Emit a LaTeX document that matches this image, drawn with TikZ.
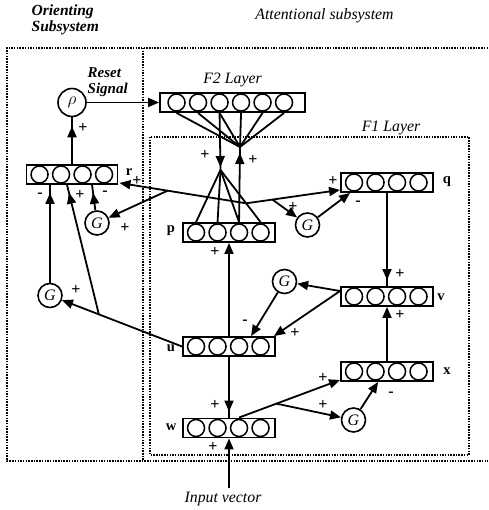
\documentclass[tikz,border=0pt]{standalone}
\usepackage{fontspec}
\setmainfont{Liberation Serif}
\usepackage{tikz}
\usetikzlibrary{arrows.meta, calc, decorations.markings}

\begin{document}
\begin{tikzpicture}[
    x=1pt, y=-1pt,
    layer/.style={draw, line width=1.9pt, minimum height=19pt, inner sep=0pt},
    cell/.style={line width=1.5pt},
    gate/.style={draw, line width=1.6pt, circle, minimum size=24pt, inner sep=0pt, font=\fontsize{16}{16}\selectfont\itshape},
    conn/.style={line width=1.8pt},
    arr/.style={conn, -{Triangle[length=11pt,width=9pt]}},
    arrowat/.style={conn, postaction={decorate}, decoration={markings, mark=at position #1 with {\arrow{Triangle[length=11pt,width=9pt]}}}},
    region/.style={line width=1.3pt, dash pattern=on 1.5pt off 1.2pt},
    sign/.style={font=\fontsize{16}{16}\selectfont\bfseries, inner sep=0pt},
    lbl/.style={font=\fontsize{14.5}{14.5}\selectfont\bfseries, inner sep=0pt},
    heading/.style={font=\fontsize{15.8}{16.5}\selectfont\itshape, inner sep=0pt, align=left}
]
\useasboundingbox (0,0) rectangle (488,510);
% Regions
\draw[region] (488,48) -- (7,48) -- (7,461) -- (488,461);
\draw[region] (143,48) -- (143,461);
\draw[region] (150,137) rectangle (469,455);
\node[heading, font=\fontsize{15.5}{16.5}\selectfont\bfseries\itshape, anchor=west] (orient) at (31.5,20) {Orienting\\Subsystem};
\node[heading, anchor=base] (attn) at (324.5,19.5) {Attentional subsystem};
\node[heading, font=\fontsize{15}{15.5}\selectfont\bfseries\itshape, anchor=west] (reset) at (87.5,82) {Reset\\Signal};
\node[heading, anchor=base] (f2lbl) at (232.5,84) {F2 Layer};
\node[heading, anchor=base] (f1lbl) at (391,132) {F1 Layer};
\node[heading, anchor=base] (inlbl) at (223,502.5) {Input vector};
% Layers
\node[layer, minimum width=145pt] (F2) at (232.5,102.5) {};
\node[layer, minimum width=91pt] (R) at (72,174.5) {};
\node[layer, minimum width=92pt] (P) at (229,232.5) {};
\node[layer, minimum width=92pt] (Q) at (387,182.5) {};
\node[layer, minimum width=92pt] (V) at (387,296.5) {};
\node[layer, minimum width=92pt] (U) at (229,346.5) {};
\node[layer, minimum width=92pt] (X) at (387,371.5) {};
\node[layer, minimum width=92pt] (W) at (229,428) {};
\foreach \n in {R,P,Q,V,U,X,W}
  \foreach \i in {0,...,3}
    \draw[cell] ($(\n.west)+(14+21.5*\i,0)$) circle (8.5pt);
\foreach \i in {0,...,5}
  \draw[cell] ($(F2.west)+(17.5+21.5*\i,0)$) circle (8.5pt);
\node[lbl] (rlbl) at (129,172.5) {r};
\node[lbl] (plbl) at (171,231) {p};
\node[lbl] (ulbl) at (171,348) {u};
\node[lbl] (wlbl) at (171,427.5) {w};
\node[lbl] (qlbl) at (447,182) {q};
\node[lbl] (vlbl) at (441,297) {v};
\node[lbl] (xlbl) at (447,371.5) {x};
% Gain controls
\node[gate, minimum size=28pt] (rho) at (72,102.5) {$\rho$};
\node[gate] (G1) at (97,223) {G};
\node[gate] (G2) at (50,295.5) {G};
\node[gate] (G3) at (307.5,225) {G};
\node[gate] (G4) at (353.5,420) {G};
\node[gate] (G5) at (284.5,281.5) {G};
% --- Orienting subsystem ---
\draw[arrowat=-9pt] (R.north) -- (rho.south);
\draw[arr] (rho.east) -- (F2.west);
% --- F2 <-> p ---
\foreach \i in {1,...,6}
  \coordinate (f\i) at ($(F2.south west)+(-4+21.5*\i,0)$);
\foreach \i in {1,...,4}
  \coordinate (p\i) at ($(P.north west)+(-7.5+21.5*\i,0)$);
\coordinate (A) at (240,147);
\coordinate (B) at (220.5,170);
\foreach \i in {1,...,6}
  \draw[conn] (f\i) -- (A);
\draw[arrowat=-3pt] (f3) -- (B);
\foreach \i in {1,...,4}
  \draw[conn] (B) -- (p\i);
\draw[arrowat=-6pt] (p3) -- (A);
% --- p -> r, p -> q ---
\coordinate (S) at ($(B)!0.64!(p4)$);
\coordinate (rin) at ($(R.south east)+(1,-2)$);
\coordinate (qin) at ($(Q.south west)+(0,-3)$);
\draw[arr] (S) -- (rin);
\draw[arr] (S) -- (qin);
\coordinate (M1) at ($(S)!0.62!(rin)$);
\draw[arr] (M1) -- (G1);
\coordinate (M2) at ($(S)!0.28!(qin)$);
\draw[arr] (M2) -- (G3);
\draw[arr] (G3) -- ($(Q.south west)+(10,0)$);
% --- into r ---
\draw[arrowat=-8pt] (G2) -- (G2 |- R.south);
\draw[arrowat=-8pt] (G1) -- ($(R.south west)+(66.5,0)$);
\draw[arr] (U.west) -- (G2);
\coordinate (M3) at ($(U.west)!0.63!(G2)$);
\draw[arrowat=-8pt] (M3) -- ($(R.south west)+(41.5,0)$);
% --- F1 layer ---
\draw[arr] (U.north) -- (P.south);
\draw[arrowat=-6pt] (Q.south) -- (V.north);
\draw[arr] (X.north) -- (V.south);
\coordinate (vout) at ($(V.west)+(0,-5.5)$);
\draw[arr] (vout) -- (G5);
\draw[arr] (vout) -- ($(U.north east)+(-2,0)$);
\draw[arr] (G5) -- ($(U.north west)+(69,0)$);
\draw[arrowat=-6pt] (U.south) -- (W.north);
\coordinate (inpt) at (229,488);
\draw[arr] (inpt) -- (W.south);
\coordinate (wout) at ($(W.north west)+(57,0)$);
\coordinate (xin) at ($(X.south west)+(0,-2)$);
\draw[arr] (wout) -- (xin);
\coordinate (M4) at ($(wout)!0.37!(xin)$);
\draw[arr] (M4) -- (G4);
\draw[arr] (G4) -- ($(X.south west)+(38,0)$);
% --- signs ---
\node[sign] (s1) at (83,128) {+};
\node[sign] (s2) at (137,181) {+};
\node[sign] (s3) at (40,195) {-};
\node[sign] (s4) at (80,195) {+};
\node[sign] (s5) at (105,193) {-};
\node[sign] (s6) at (125,228) {+};
\node[sign] (s7) at (76,290) {+};
\node[sign] (s8) at (215,252) {+};
\node[sign] (s9) at (205,155) {+};
\node[sign] (s10) at (253,160) {+};
\node[sign] (s11) at (333,181) {+};
\node[sign] (s12) at (293,207) {+};
\node[sign] (s13) at (358,203) {-};
\node[sign] (s14) at (400,274) {+};
\node[sign] (s15) at (400,315) {+};
\node[sign] (s16) at (245,322) {-};
\node[sign] (s17) at (295,333) {+};
\node[sign] (s18) at (215,405) {+};
\node[sign] (s19) at (213,447) {+};
\node[sign] (s20) at (323,378) {+};
\node[sign] (s21) at (323,405) {+};
\node[sign] (s22) at (391,394) {-};
\end{tikzpicture}
\end{document}
